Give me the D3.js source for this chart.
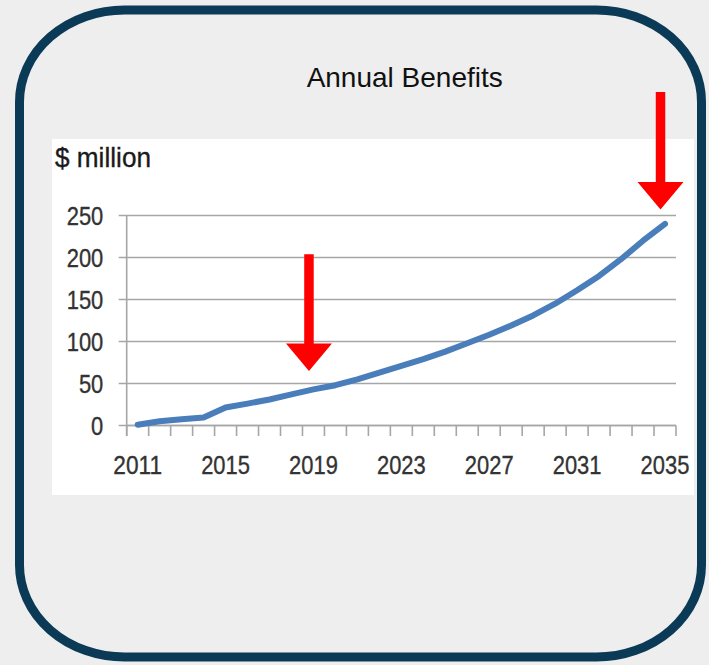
<!DOCTYPE html>
<html>
<head>
<meta charset="utf-8">
<script src="https://cdn.jsdelivr.net/npm/d3@7"></script>
<style>
  html, body { margin: 0; padding: 0; background: #eeeeee; }
  svg { display: block; }
</style>
</head>
<body>
<svg id="chart" width="709" height="665"></svg>
<script>
// ---- data ----
const years = [2011, 2012, 2013, 2014, 2015, 2016, 2017, 2018, 2019, 2020, 2021, 2022, 2023,
               2024, 2025, 2026, 2027, 2028, 2029, 2030, 2031, 2032, 2033, 2034, 2035];
const benefits = [1, 5, 7.5, 9.5, 21.5, 26, 31, 37, 43, 48, 55, 63, 71,
                  79, 88, 98, 108, 119, 131, 145, 161, 178, 198, 220, 240];
const yTicks = [0, 50, 100, 150, 200, 250];
const xLabelYears = [2011, 2015, 2019, 2023, 2027, 2031, 2035];
const arrowYears = [2019, 2035];
const arrowTipValues = [65, 257];
const arrowTopValues = [204, 397];
const titleText = "Annual Benefits";
const unitText = "$ million";

// ---- layout ----
const svg = d3.select("#chart");
const W = 709, H = 665;
const plot = { left: 126.7, right: 676, top: 215.5, bottom: 425.5 };
const labelFont = "'Liberation Sans Narrow', 'Arial Narrow', 'Liberation Sans', sans-serif";
const digitW = 12.2;

svg.append("rect").attr("width", W).attr("height", H).attr("fill", "#eeeeee");

// rounded frame
svg.append("rect")
  .attr("x", 19.5).attr("y", 10).attr("width", 682).attr("height", 647)
  .attr("rx", 105).attr("ry", 92)
  .attr("fill", "none").attr("stroke", "#0b3a57").attr("stroke-width", 9);

// title
svg.append("text")
  .attr("x", 404.7).attr("y", 86.7)
  .attr("text-anchor", "middle")
  .attr("font-family", "'Liberation Sans', Arial, sans-serif")
  .attr("font-size", 28)
  .attr("fill", "#111111")
  .text(titleText);

// white chart panel
svg.append("rect")
  .attr("x", 52).attr("y", 139).attr("width", 642).attr("height", 356)
  .attr("fill", "#ffffff");

// unit label
svg.append("text")
  .attr("x", 55).attr("y", 166.7)
  .attr("font-family", labelFont)
  .attr("font-size", 27)
  .attr("textLength", 96).attr("lengthAdjust", "spacingAndGlyphs")
  .attr("fill", "#1a1a1a")
  .attr("stroke", "#1a1a1a").attr("stroke-width", 0.35)
  .text(unitText);

// scales
const x = d3.scaleBand().domain(years).range([plot.left, plot.right]).paddingInner(0).paddingOuter(0);
const xc = d => x(d) + x.bandwidth() / 2;
const y = d3.scaleLinear().domain([0, 250]).range([plot.bottom, plot.top]);

// gridlines (with short outer ticks on the left)
svg.append("g").selectAll("line").data(yTicks).join("line")
  .attr("x1", plot.left - 8).attr("x2", plot.right)
  .attr("y1", d => y(d)).attr("y2", d => y(d))
  .attr("stroke", "#a6a6a6").attr("stroke-width", 1.6);

// y axis line
svg.append("line")
  .attr("x1", plot.left).attr("x2", plot.left)
  .attr("y1", y(250)).attr("y2", plot.bottom + 10.5)
  .attr("stroke", "#a6a6a6").attr("stroke-width", 1.6);

// y labels
svg.append("g").selectAll("text").data(yTicks).join("text")
  .attr("x", 103.3).attr("y", d => y(d) + 9.5)
  .attr("text-anchor", "end")
  .attr("font-family", labelFont).attr("font-size", 25)
  .attr("textLength", d => String(d).length * digitW).attr("lengthAdjust", "spacingAndGlyphs")
  .attr("fill", "#333333")
  .attr("stroke", "#333333").attr("stroke-width", 0.35)
  .text(d => d);

// x axis: ticks at category boundaries
const boundaries = years.map(d => x(d)).concat([plot.right]);
svg.append("g").selectAll("line").data(boundaries).join("line")
  .attr("x1", d => d).attr("x2", d => d)
  .attr("y1", plot.bottom).attr("y2", plot.bottom + 10.5)
  .attr("stroke", "#a6a6a6").attr("stroke-width", 1.6);

svg.append("line")
  .attr("x1", plot.left).attr("x2", plot.right)
  .attr("y1", plot.bottom).attr("y2", plot.bottom)
  .attr("stroke", "#a6a6a6").attr("stroke-width", 1.6);

svg.append("g").selectAll("text").data(xLabelYears).join("text")
  .attr("x", d => xc(d)).attr("y", 474.3)
  .attr("text-anchor", "middle")
  .attr("font-family", labelFont).attr("font-size", 25)
  .attr("textLength", d => String(d).length * digitW).attr("lengthAdjust", "spacingAndGlyphs")
  .attr("fill", "#333333")
  .attr("stroke", "#333333").attr("stroke-width", 0.35)
  .text(d => d);

// the series line
const line = d3.line()
  .x((d, i) => xc(years[i]))
  .y(d => y(d))
  .curve(d3.curveLinear);

svg.append("path")
  .datum(benefits)
  .attr("d", line)
  .attr("fill", "none")
  .attr("stroke", "#4a7ebb")
  .attr("stroke-width", 6)
  .attr("stroke-linecap", "round")
  .attr("stroke-linejoin", "round");

// annotation arrows
const shaftW = 9.5, headW = 46, headH = 27.5;
arrowYears.forEach((yr, i) => {
  const cx = xc(yr) - 4.5;
  const tip = y(arrowTipValues[i]);
  const top = y(arrowTopValues[i]);
  const headTop = tip - headH;
  const pts = [
    [cx - shaftW / 2, top], [cx + shaftW / 2, top],
    [cx + shaftW / 2, headTop], [cx + headW / 2, headTop],
    [cx, tip],
    [cx - headW / 2, headTop], [cx - shaftW / 2, headTop]
  ];
  svg.append("polygon")
    .attr("points", pts.map(p => p.join(",")).join(" "))
    .attr("fill", "#ff0000");
});
</script>
</body>
</html>
